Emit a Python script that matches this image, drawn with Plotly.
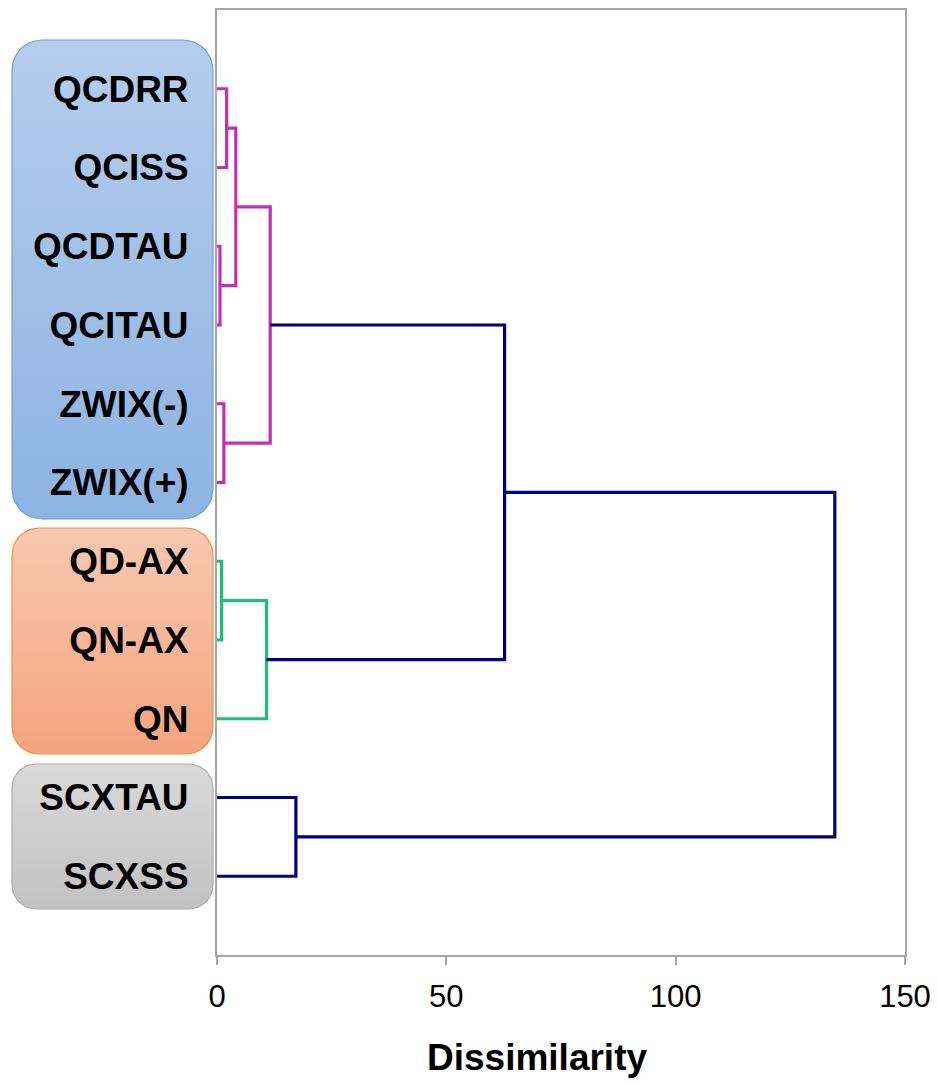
import numpy as np
import plotly.graph_objects as go

# ---------------- data ----------------
labels = ["QCDRR", "QCISS", "QCDTAU", "QCITAU", "ZWIX(-)", "ZWIX(+)",
          "QD-AX", "QN-AX", "QN", "SCXTAU", "SCXSS"]
# linkage: node ids 0..10 are leaves, merges create nodes 11, 12, ...
merge_left = [0, 2, 11, 4, 13, 6, 16, 15, 9, 18]
merge_right = [1, 3, 12, 5, 14, 7, 8, 17, 10, 19]
merge_height = [2.1, 0.65, 4.1, 1.5, 11.6, 1.0, 10.8, 62.7, 17.2, 134.7]
merge_group = ["QC", "QC", "QC", "QC", "QC", "QN", "QN", "top", "top", "top"]
x_ticks = [0, 50, 100, 150]
x_title = "Dissimilarity"

group_colors = {"QC": "#C430B5", "QN": "#1FBF7B", "top": "#000080"}

W, H = 938, 1085
PL, PR, PT, PB = 217, 905, 10, 955

fig = go.Figure()

# ---------------- label background boxes (pixel space subplot) ----------------
def rounded_rect(x0, y0, x1, y1, r, n=12):
    xs, ys = [], []
    corners = [(x1 - r, y0 + r, -90, 0), (x1 - r, y1 - r, 0, 90),
               (x0 + r, y1 - r, 90, 180), (x0 + r, y0 + r, 180, 270)]
    for cx, cy, a0, a1 in corners:
        for a in np.linspace(np.radians(a0), np.radians(a1), n):
            xs.append(cx + r * np.cos(a))
            ys.append(cy + r * np.sin(a))
    xs.append(xs[0]); ys.append(ys[0])
    return xs, ys

boxes = [
    (12, 40, 213, 519, 30, "#B5CDEC", "#8DB3E2", "#6E9ED7"),
    (12, 528, 213, 754, 27, "#F8C8B2", "#F4A47E", "#F0903E"),
    (12, 764, 213, 909, 24, "#D9D9D9", "#C2C2C2", "#ABABAB"),
]
for x0, y0, x1, y1, r, ctop, cbot, cline in boxes:
    bx, by = rounded_rect(x0, y0, x1, y1, r)
    fig.add_trace(go.Scatter(
        x=bx, y=by, mode="lines", fill="toself",
        line=dict(color=cline, width=1.2),
        fillgradient=dict(type="vertical", start=y0, stop=y1,
                          colorscale=[[0, ctop], [1, cbot]]),
        xaxis="x", yaxis="y", hoverinfo="skip", showlegend=False))

# ---------------- dendrogram ----------------
n_leaves = len(labels)
node_pos = {i: i + 1 for i in range(n_leaves)}
node_h = {i: 0.0 for i in range(n_leaves)}
for k, (a, b, h, g) in enumerate(zip(merge_left, merge_right, merge_height, merge_group)):
    nid = n_leaves + k
    ya, yb = node_pos[a], node_pos[b]
    xs = [node_h[a], h, h, node_h[b]]
    ys = [ya, ya, yb, yb]
    fig.add_trace(go.Scatter(
        x=xs, y=ys, mode="lines",
        line=dict(color=group_colors[g], width=3.2),
        xaxis="x2", yaxis="y2", hoverinfo="skip", showlegend=False))
    node_pos[nid] = (ya + yb) / 2
    node_h[nid] = h

axis_gray = "#A6A6A6"
fig.update_layout(
    width=W, height=H,
    margin=dict(l=0, r=0, t=0, b=0, autoexpand=False),
    paper_bgcolor="white", plot_bgcolor="rgba(0,0,0,0)",
    showlegend=False, hovermode=False,
    font=dict(family="Liberation Sans, Arial, sans-serif", color="black"),
    xaxis=dict(domain=[0, 1], range=[0, W], visible=False, fixedrange=True,
               automargin=False),
    yaxis=dict(domain=[0, 1], range=[H, 0], visible=False, fixedrange=True,
               automargin=False),
    xaxis2=dict(
        domain=[PL / W, PR / W], range=[0, 150], anchor="y2",
        tickvals=x_ticks, ticktext=[str(v) for v in x_ticks],
        ticks="outside", ticklen=8, tickwidth=1.5, tickcolor=axis_gray,
        showgrid=False, zeroline=False, automargin=False,
        showline=True, linecolor=axis_gray, linewidth=2, mirror=True,
        tickfont=dict(size=31, color="black"),
        ticklabelstandoff=5,
    ),
    yaxis2=dict(
        domain=[(H - PB) / H, (H - PT) / H], range=[12, 0], anchor="x2",
        tickvals=list(range(1, n_leaves + 1)), ticktext=labels,
        ticks="", showgrid=False, zeroline=False, automargin=False,
        showline=True, linecolor=axis_gray, linewidth=2, mirror=True,
        tickfont=dict(size=37, color="black", weight="bold"),
        ticklabelstandoff=19,
    ),
    annotations=[dict(
        text=x_title, xref="paper", yref="paper",
        x=537 / W, y=1 - 1057 / H, xanchor="center", yanchor="middle",
        showarrow=False, font=dict(size=37, color="black", weight="bold"),
    )],
)

fig.write_html("out.html")
